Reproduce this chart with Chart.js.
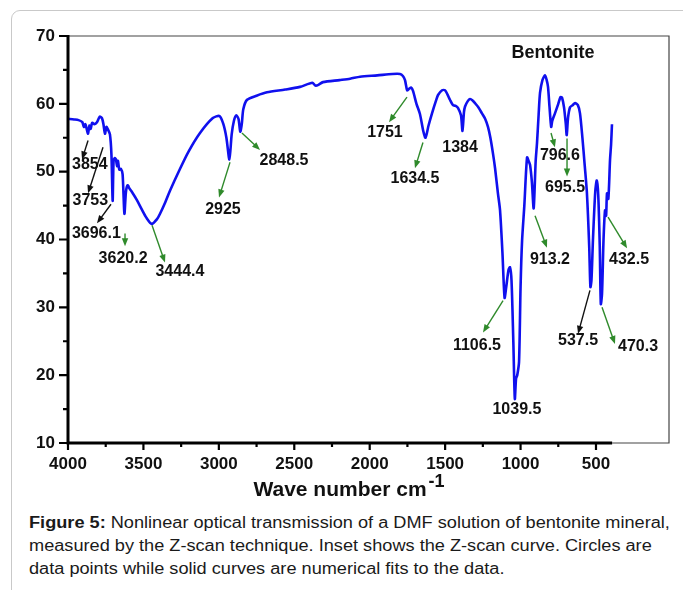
<!DOCTYPE html>
<html>
<head>
<meta charset="utf-8">
<script src="https://cdn.jsdelivr.net/npm/chart.js@4.4.1/dist/chart.umd.min.js"></script>
<style>
  body { margin: 0; background: #fff; width: 683px; height: 590px; overflow: hidden; position: relative;
         font-family: "Liberation Sans", Arial, sans-serif; }
  .frame { position: absolute; left: 11px; top: 10px; width: 720px; height: 640px;
           border: 1px solid #c9c9c9; border-radius: 9px; }
  .chart-container { position: absolute; left: 0; top: 0; width: 683px; height: 505px; }
  .caption { position: absolute; left: 29px; top: 511px; font-size: 16px;
             line-height: 23px; color: #1a1a1a; white-space: nowrap;
             transform: scaleX(1.135); transform-origin: 0 0; }
</style>
</head>
<body>
<div class="frame"></div>
<div class="chart-container"><canvas id="myChart"></canvas></div>
<div class="caption"><b>Figure 5:</b> Nonlinear optical transmission of a DMF solution of bentonite mineral,<br>measured by the Z-scan technique. Inset shows the Z-scan curve. Circles are<br>data points while solid curves are numerical fits to the data.</div>

<script>
// FTIR spectrum of bentonite (wave number cm-1 / transmittance %)
const waveNumbers = [
  4000, 3960, 3930, 3905, 3895, 3885, 3875, 3867, 3858, 3850, 3840, 3825, 3808, 3790, 3775,
  3765, 3755, 3745, 3735, 3722, 3712, 3704, 3698, 3690, 3682, 3675, 3669, 3660, 3649, 3638,
  3626, 3616, 3605, 3592, 3576, 3543, 3510, 3480, 3445, 3410, 3390, 3355, 3324, 3258, 3200,
  3125, 3040, 2995, 2970, 2950, 2930, 2915, 2900, 2885, 2870, 2858, 2848, 2838, 2813, 2750,
  2681, 2560, 2462, 2380, 2360, 2340, 2310, 2200, 2130, 2064, 1950, 1850, 1799, 1780, 1766,
  1752, 1740, 1725, 1713, 1690, 1667, 1645, 1630, 1610, 1587, 1560, 1547, 1520, 1501, 1485,
  1468, 1448, 1430, 1415, 1395, 1385, 1375, 1368, 1350, 1335, 1318, 1302, 1280, 1256, 1235,
  1216, 1200, 1183, 1169, 1150, 1136, 1120, 1106, 1095, 1080, 1070, 1060, 1048, 1038, 1030,
  1022, 1010, 1000, 990, 975, 957, 945, 937, 925, 913, 900, 891, 880, 871, 855,
  838, 828, 818, 808, 797, 790, 772, 750, 735, 725, 712, 700, 694, 685, 672,
  655, 639, 620, 606, 590, 575, 560, 545, 537, 530, 520, 505, 495, 485, 475,
  468, 460, 450, 440, 433, 427, 418, 407, 400, 394
];
const transmittance = [
  57.8, 57.7, 57.6, 57.3, 56.6, 57.0, 56.2, 55.6, 56.8, 56.3, 57.2, 57.0, 57.3, 58.1, 57.9,
  57.0, 55.6, 56.6, 56.2, 55.5, 52.5, 45.7, 51.5, 52.0, 51.8, 50.8, 51.6, 50.3, 50.4, 49.6,
  43.8, 47.0, 48.0, 47.5, 47.0, 45.8, 44.4, 43.2, 42.3, 43.0, 43.8, 45.5, 47.2, 50.4, 53.0,
  55.7, 57.9, 58.2, 57.0, 55.0, 51.8, 55.5, 57.5, 58.3, 57.8, 55.9, 57.0, 59.2, 60.6, 61.2,
  61.7, 62.1, 62.5, 63.1, 62.7, 62.8, 63.2, 63.5, 63.7, 64.0, 64.2, 64.4, 64.4, 64.1, 63.5,
  62.0, 62.2, 62.4, 61.9, 60.0, 58.5, 56.0, 55.0, 56.8, 58.6, 60.5, 61.3, 62.0, 62.0, 61.4,
  60.6, 59.8, 59.7, 59.4, 58.3, 56.0, 58.8, 59.6, 60.4, 60.7, 60.5, 60.1, 59.5, 58.6, 57.8,
  56.6, 55.0, 52.7, 50.5, 46.8, 44.3, 38.0, 31.4, 33.0, 35.5, 35.9, 34.0, 25.0, 16.5, 19.5,
  20.0, 22.0, 33.0, 39.8, 45.0, 52.1, 51.5, 51.0, 48.5, 44.6, 51.5, 54.2, 58.5, 61.6, 63.5,
  64.2, 63.6, 62.5, 59.5, 56.6, 57.5, 58.6, 60.0, 61.0, 60.9, 59.5, 57.0, 55.4, 58.0, 59.5,
  59.8, 60.1, 59.8, 58.6, 55.0, 51.0, 46.8, 39.0, 33.0, 34.0, 40.0, 47.0, 48.7, 46.5, 39.0,
  30.5, 32.0, 40.0, 44.3, 43.5, 46.8, 46.0, 51.7, 54.0, 57.0
];

const xTicks = [4000, 3500, 3000, 2500, 2000, 1500, 1000, 500];
const yTicks = [10, 20, 30, 40, 50, 60, 70];

// peak labels and where they sit (data units); arrow: [from wn, from T, to wn, to T]
const peakLabels = ['3854', '3753', '3696.1', '3620.2', '3444.4', '2925', '2848.5', '1751',
  '1634.5', '1384', '1106.5', '1039.5', '913.2', '796.6', '695.5', '537.5', '470.3', '432.5'];
const labelWn = [3855, 3852, 3812, 3635, 3258, 2973, 2568, 1899, 1700, 1401, 1289, 1024, 805, 739, 705, 619, 221, 281];
const labelT = [51.1, 45.8, 40.9, 37.2, 35.3, 44.4, 51.7, 55.7, 49.0, 53.6, 24.3, 14.9, 37.0, 52.4, 47.7, 25.1, 24.2, 37.0];
const arrows = [
  [3867, 54.6, 3907, 51.8, 'black'], [3768, 53.6, 3867, 46.8, 'black'], [3715, 45.2, 3808, 42.4, 'black'],
  [3622, 40.9, 3622, 39.0, 'green'], [3443, 42.1, 3357, 36.6, 'green'], [2926, 51.4, 2999, 46.2, 'green'],
  [2847, 55.7, 2727, 53.2, 'green'], [1753, 61.0, 1872, 57.3, 'green'], [1647, 54.3, 1700, 50.5, 'green'],
  null, [1116, 31.0, 1249, 26.3, 'green'], null, [904, 43.5, 825, 38.8, 'green'],
  [798, 55.7, 772, 53.6, 'green'], [692, 54.9, 692, 49.3, 'green'], [540, 32.5, 619, 26.1, 'black'],
  [460, 30.0, 374, 24.6, 'green'], [420, 43.3, 294, 38.7, 'green']
];

const FONT = '"Liberation Sans", Arial, sans-serif';
const GREEN = '#2f8a2b';

const drawArrow = (ctx, x1, y1, x2, y2, color) => {
  const ang = Math.atan2(y2 - y1, x2 - x1);
  const head = 8;
  ctx.strokeStyle = color;
  ctx.fillStyle = color;
  ctx.lineWidth = 1.4;
  ctx.beginPath();
  ctx.moveTo(x1, y1);
  ctx.lineTo(x2 - Math.cos(ang) * head * 0.8, y2 - Math.sin(ang) * head * 0.8);
  ctx.stroke();
  ctx.beginPath();
  ctx.moveTo(x2, y2);
  ctx.lineTo(x2 - head * Math.cos(ang) + 3.2 * Math.sin(ang), y2 - head * Math.sin(ang) - 3.2 * Math.cos(ang));
  ctx.lineTo(x2 - head * Math.cos(ang) - 3.2 * Math.sin(ang), y2 - head * Math.sin(ang) + 3.2 * Math.cos(ang));
  ctx.closePath();
  ctx.fill();
}

const decorations = {
  id: 'decorations',
  afterDraw(chart) {
    const {ctx, chartArea: a, scales: {x, y}} = chart;
    ctx.save();

    // thin frame (top / right / bottom tail)
    const axisEnd = x.getPixelForValue(393);
    ctx.strokeStyle = '#444';
    ctx.lineWidth = 1.2;
    ctx.beginPath();
    ctx.moveTo(a.left, a.top);
    ctx.lineTo(a.right, a.top);
    ctx.lineTo(a.right, a.bottom);
    ctx.lineTo(axisEnd, a.bottom);
    ctx.stroke();

    // thick axes
    ctx.strokeStyle = '#000';
    ctx.lineWidth = 3;
    ctx.beginPath();
    ctx.moveTo(a.left, a.top - 1);
    ctx.lineTo(a.left, a.bottom);
    ctx.lineTo(axisEnd, a.bottom);
    ctx.stroke();

    // ticks
    ctx.lineWidth = 2.2;
    ctx.beginPath();
    for (let v = 10; v <= 70; v += 5) {
      const py = y.getPixelForValue(v);
      ctx.moveTo(a.left, py);
      ctx.lineTo(a.left - (v % 10 === 0 ? 9 : 5), py);
    }
    for (let v = 4000; v >= 500; v -= 250) {
      const px = x.getPixelForValue(v);
      ctx.moveTo(px, a.bottom);
      ctx.lineTo(px, a.bottom + (v % 500 === 0 ? 7 : 4));
    }
    ctx.stroke();

    // arrows
    arrows.forEach(ar => {
      if (!ar) return;
      drawArrow(ctx, x.getPixelForValue(ar[0]), y.getPixelForValue(ar[1]),
        x.getPixelForValue(ar[2]), y.getPixelForValue(ar[3]), ar[4] === 'green' ? GREEN : '#111');
    });

    // peak labels
    ctx.fillStyle = '#111';
    ctx.font = 'bold 16px ' + FONT;
    ctx.textAlign = 'center';
    ctx.textBaseline = 'middle';
    peakLabels.forEach((t, i) => {
      ctx.fillText(t, x.getPixelForValue(labelWn[i]), y.getPixelForValue(labelT[i]));
    });

    ctx.font = 'bold 18px ' + FONT;
    ctx.fillText('Bentonite', x.getPixelForValue(785), y.getPixelForValue(67.5));

    // axis title with superscript
    ctx.textBaseline = 'alphabetic';
    ctx.textAlign = 'left';
    ctx.font = 'bold 21px ' + FONT;
    const title = 'Wave number cm';
    const w = ctx.measureText(title).width;
    const tx = 340 - w / 2;
    ctx.fillText(title, tx, 496);
    ctx.font = 'bold 18px ' + FONT;
    ctx.fillText('-1', tx + w + 2, 487);

    ctx.restore();
  }
};

Chart.defaults.font.family = FONT;
Chart.defaults.color = '#111';

const myChart = document.getElementById('myChart');

new Chart(myChart, {
  type: 'line',
  data: {
    datasets: [{
      data: waveNumbers.map((wn, i) => ({x: wn, y: transmittance[i]})),
      borderColor: '#1010ee',
      borderWidth: 2.6,
      pointRadius: 0,
      tension: 0.25,
      fill: false
    }]
  },
  options: {
    responsive: true,
    maintainAspectRatio: false,
    animation: false,
    layout: {padding: {left: 0, top: 36, right: 14, bottom: 0}},
    plugins: {legend: {display: false}, tooltip: {enabled: false}},
    scales: {
      x: {
        type: 'linear',
        reverse: true,
        min: 16,
        max: 4000,
        afterBuildTicks: s => { s.ticks = xTicks.map(v => ({value: v})); },
        afterFit: s => { s.height = 62; },
        grid: {display: false, drawTicks: false},
        border: {display: false},
        ticks: {font: {size: 17, weight: 'bold'}, padding: 11, maxRotation: 0, color: '#111',
                callback: v => String(v)}
      },
      y: {
        min: 10,
        max: 70,
        afterBuildTicks: s => { s.ticks = yTicks.map(v => ({value: v})); },
        afterFit: s => { s.width = 68; },
        grid: {display: false, drawTicks: false},
        border: {display: false},
        ticks: {font: {size: 17, weight: 'bold'}, padding: 13, color: '#111',
                callback: v => String(v)}
      }
    }
  },
  plugins: [decorations]
});
</script>
</body>
</html>
